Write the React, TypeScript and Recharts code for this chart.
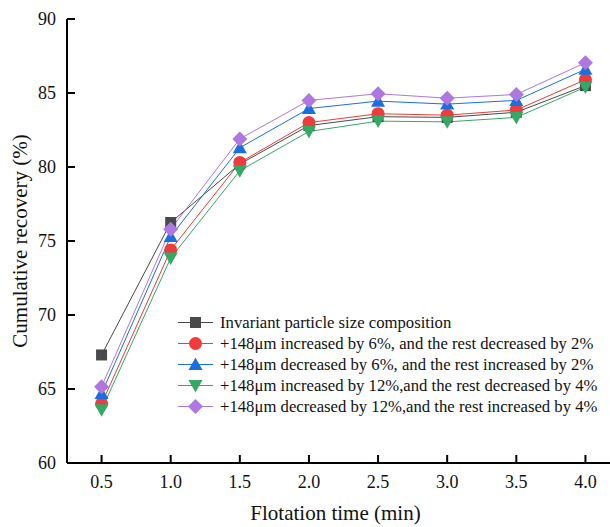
import React from 'react';
import { LineChart, Line, XAxis, YAxis, Legend } from 'recharts';

const times = [0.5, 1.0, 1.5, 2.0, 2.5, 3.0, 3.5, 4.0];
const seriesNames = [
  'Invariant particle size composition',
  '+148μm increased by 6%, and the rest decreased by 2%',
  '+148μm decreased by 6%, and the rest increased by 2%',
  '+148μm increased by 12%,and the rest decreased by 4%',
  '+148μm decreased by 12%,and the rest increased by 4%',
];
const invariant = [67.3, 76.25, 80.2, 82.8, 83.4, 83.35, 83.7, 85.5];
const inc6 = [64.0, 74.4, 80.3, 83.0, 83.6, 83.5, 83.85, 85.9];
const dec6 = [64.7, 75.3, 81.3, 83.95, 84.45, 84.25, 84.5, 86.6];
const inc12 = [63.6, 73.85, 79.75, 82.4, 83.1, 83.05, 83.35, 85.4];
const dec12 = [65.15, 75.8, 81.9, 84.5, 84.95, 84.65, 84.9, 87.05];
const yTicks = [60, 65, 70, 75, 80, 85, 90];
const xTicks = [0.5, 1.0, 1.5, 2.0, 2.5, 3.0, 3.5, 4.0];

const colors = ['#4a4a4a', '#ef3b3b', '#1a6fe0', '#35a866', '#b177e0'];
const shapes = ['square', 'circle', 'triangle', 'triangleDown', 'diamond'];
const allSeries = [invariant, inc6, dec6, inc12, dec12];

const data = times.map((t, i) => {
  const row: any = { x: t };
  allSeries.forEach((s, k) => {
    row['s' + k] = s[i];
  });
  return row;
});

const FONT = 'Liberation Serif';

function Marker({ shape, color, cx, cy }: any) {
  if (cx == null || cy == null) return null;
  switch (shape) {
    case 'square':
      return <rect x={cx - 5.5} y={cy - 5.5} width={11} height={11} fill={color} />;
    case 'circle':
      return <circle cx={cx} cy={cy} r={6.5} fill={color} />;
    case 'triangle':
      return <polygon points={`${cx},${cy - 7} ${cx + 7},${cy + 5.5} ${cx - 7},${cy + 5.5}`} fill={color} />;
    case 'triangleDown':
      return <polygon points={`${cx},${cy + 7} ${cx + 7},${cy - 5.5} ${cx - 7},${cy - 5.5}`} fill={color} />;
    case 'diamond':
      return <polygon points={`${cx},${cy - 7.5} ${cx + 7.5},${cy} ${cx},${cy + 7.5} ${cx - 7.5},${cy}`} fill={color} />;
    default:
      return null;
  }
}

function LegendContent() {
  return (
    <div style={{ fontFamily: FONT, fontSize: 16.7, color: '#111' }}>
      {seriesNames.map((name, k) => (
        <div key={k} style={{ display: 'flex', alignItems: 'center', height: 21, whiteSpace: 'nowrap' }}>
          <svg width={42} height={21} style={{ display: 'block' }}>
            <line x1={0} y1={10.5} x2={35} y2={10.5} stroke={colors[k]} strokeWidth={1} />
            <Marker shape={shapes[k]} color={colors[k]} cx={17.5} cy={10.5} />
          </svg>
          <span>{name}</span>
        </div>
      ))}
    </div>
  );
}

export default function App() {
  return (
    <div style={{ position: 'fixed', left: 0, top: 0, width: 610, height: 527, overflow: 'hidden', background: '#fff' }}>
      <LineChart
        width={640}
        height={527}
        data={data}
        margin={{ top: 19, right: 20, bottom: 0, left: 0 }}
        style={{ fontFamily: FONT }}
      >
        <XAxis
          dataKey="x"
          type="number"
          domain={[0.25, 4.25]}
          ticks={xTicks}
          tickFormatter={(v: number) => v.toFixed(1)}
          height={64}
          tickSize={-8}
          tickMargin={20}
          axisLine={{ stroke: '#000', strokeWidth: 2 }}
          tickLine={{ stroke: '#000', strokeWidth: 2 }}
          tick={{ fill: '#111', fontSize: 18, fontFamily: FONT }}
          allowDataOverflow
          label={{ value: 'Flotation time (min)', position: 'insideBottom', offset: 7, fill: '#111', fontSize: 21, fontFamily: FONT, dx: -8 }}
        />
        <XAxis
          xAxisId="top"
          dataKey="x"
          type="number"
          orientation="top"
          domain={[0.25, 4.25]}
          height={0}
          tick={false}
          tickLine={false}
          axisLine={{ stroke: '#000', strokeWidth: 2 }}
          allowDataOverflow
        />
        <YAxis
          type="number"
          domain={[60, 90]}
          ticks={yTicks}
          width={67}
          tickSize={-8}
          tickMargin={19}
          axisLine={{ stroke: '#000', strokeWidth: 2 }}
          tickLine={{ stroke: '#000', strokeWidth: 2 }}
          tick={{ fill: '#111', fontSize: 18, fontFamily: FONT }}
          allowDataOverflow
          label={{ value: 'Cumulative recovery (%)', angle: -90, position: 'insideLeft', offset: 20, fill: '#111', fontSize: 21, fontFamily: FONT, style: { textAnchor: 'middle' } }}
        />
        <Legend
          layout="vertical"
          align="center"
          verticalAlign="middle"
          content={() => <LegendContent />}
          wrapperStyle={{ left: 178, top: 312, width: 440, right: 'auto', bottom: 'auto' }}
        />
        {allSeries.map((_, k) => (
          <Line
            key={k}
            type="linear"
            dataKey={'s' + k}
            name={seriesNames[k]}
            stroke={colors[k]}
            strokeWidth={1}
            isAnimationActive={false}
            dot={(p: any) => <Marker key={`d${k}-${p.index}`} shape={shapes[k]} color={colors[k]} cx={p.cx} cy={p.cy} />}
            activeDot={false}
          />
        ))}
      </LineChart>
    </div>
  );
}
